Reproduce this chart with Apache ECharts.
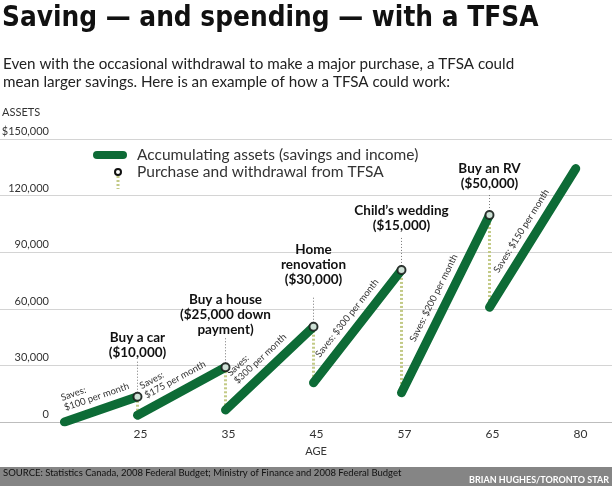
<!DOCTYPE html>
<html><head><meta charset="utf-8">
<script src="https://cdn.jsdelivr.net/npm/echarts@6/dist/echarts.min.js"></script>
<style>html,body{margin:0;padding:0;background:#fff}#c{width:612px;height:486px}</style>
</head><body><div id="c"></div>
<script>
// ---- data ----
const ageTicks = ['25', '35', '45', '57', '65', '80'];
const tickPos = [1, 2, 3, 4, 5, 6];           // axis positions of the age ticks
const yTicks = [0, 30000, 60000, 90000, 120000, 150000];
const yTickLabels = ['0', '30,000', '60,000', '90,000', '120,000', '$150,000'];
// saving segments: start / end (x = axis position, y = assets $)
const segStartX = [0.17, 1, 2, 3, 4, 5];
const segStartY = [0, 3600, 6400, 20800, 15500, 60800];
const segEndX = [1, 2, 3, 4, 5, 5.98];
const segEndY = [13400, 29000, 50500, 80600, 109700, 134300];
const savesText = ['Saves:\n$100 per month', 'Saves:\n$175 per month', 'Saves:\n$300 per month',
  'Saves: $300 per month', 'Saves: $200 per month', 'Saves: $150 per month'];
const eventLabels = ['Buy a car\n($10,000)', 'Buy a house\n($25,000 down\npayment)',
  'Home\nrenovation\n($30,000)', 'Child\u2019s wedding\n($15,000)', 'Buy an RV\n($50,000)'];
const legendNames = ['Accumulating assets (savings and income)', 'Purchase and withdrawal from TFSA'];

// ---- style ----
const GREEN = '#0d6b36';
const FONT = 'Lato, "Open Sans", sans-serif';
const SAVES_FONT_SIZE = 9.5;
const leaderLen = [35, 30, 29, 33, 22];
const labelGap = [37, 30, 40, 37, 24];

const cv = document.createElement('canvas').getContext('2d');
function tw(s, font) { cv.font = font; return cv.measureText(s).width; }

const chart = echarts.init(document.getElementById('c'), null, {renderer: 'canvas'});

const series = [];
// withdrawal dotted lines
series.push({
  type: 'lines', coordinateSystem: 'cartesian2d', z: 1, silent: true,
  lineStyle: {color: '#c3ca86', width: 3, type: [2, 2], opacity: 1, curveness: 0},
  data: eventLabels.map((_, i) => ({coords: [[segEndX[i], segEndY[i]], [segStartX[i + 1], segStartY[i + 1]]]}))
});
// saving segments
for (let i = 0; i < segStartX.length; i++) {
  const parts = savesText[i].split('\n');
  let fmt, rich;
  if (parts.length > 1) {
    const w = tw(parts[1], SAVES_FONT_SIZE + 'px ' + FONT);
    fmt = '{a|' + parts[0] + '}\n{b|' + parts[1] + '}';
    rich = {a: {width: w, align: 'left', fontSize: SAVES_FONT_SIZE, fontFamily: FONT, color: '#333', lineHeight: 10.5},
            b: {fontSize: SAVES_FONT_SIZE, fontFamily: FONT, color: '#333', lineHeight: 10.5}};
  } else { fmt = parts[0]; rich = {}; }
  series.push({
    type: 'line', z: 2, silent: true, showSymbol: false, animation: false,
    data: [[segStartX[i], segStartY[i]], [segEndX[i], segEndY[i]]],
    lineStyle: {color: GREEN, width: 9, cap: 'round'},
    markLine: {
      silent: true, symbol: 'none', animation: false,
      lineStyle: {color: 'rgba(0,0,0,0)', width: 0, opacity: 1},
      label: {show: true, position: 'insideMiddleTop', formatter: fmt, rich: rich, opacity: 1,
        fontSize: SAVES_FONT_SIZE, fontFamily: FONT, color: '#333', distance: 8, lineHeight: 10.5},
      data: [[{coord: [segStartX[i], segStartY[i]]}, {coord: [segEndX[i], segEndY[i]]}]]
    }
  });
}
// leader lines + event labels
series.push({
  type: 'custom', coordinateSystem: 'cartesian2d', z: 3, silent: true, clip: false,
  data: eventLabels.map((_, i) => [segEndX[i], segEndY[i], i]),
  renderItem: function (params, api) {
    const i = api.value(2);
    const p = api.coord([api.value(0), api.value(1)]);
    return {type: 'group', children: [
      {type: 'line', shape: {x1: p[0], y1: p[1] - 4, x2: p[0], y2: p[1] - leaderLen[i]},
        style: {stroke: '#777', lineWidth: 1, lineDash: [1, 2]}},
      {type: 'text', x: p[0], y: p[1] - labelGap[i],
        style: {text: eventLabels[i], fill: '#111', font: 'bold 13.5px ' + FONT,
          align: 'center', verticalAlign: 'bottom', lineHeight: 15}}
    ]};
  }
});
// purchase circles
series.push({
  type: 'scatter', z: 4, silent: true, symbol: 'circle', symbolSize: 8,
  itemStyle: {color: '#fff', borderColor: '#111', borderWidth: 2},
  data: eventLabels.map((_, i) => [segEndX[i], segEndY[i]])
});

chart.setOption({
  animation: false,
  grid: {left: 0, right: 0, top: 139, bottom: 64, containLabel: false, outerBoundsMode: 'none'},
  xAxis: {
    type: 'value', min: -0.5625, max: 6.392,
    axisLine: {show: true, lineStyle: {color: '#bdbdbd'}},
    axisTick: {show: false}, splitLine: {show: false},
    axisLabel: {customValues: tickPos, formatter: v => ageTicks[tickPos.indexOf(v)],
      color: '#333', fontSize: 12, fontFamily: FONT, margin: 6, padding: [0, 0, 0, 6]},
    name: 'AGE', nameLocation: 'middle', nameGap: 24,
    nameTextStyle: {color: '#333', fontSize: 11, fontFamily: FONT, padding: [0, 0, 0, 20]}
  },
  yAxis: {
    type: 'value', min: 0, max: 150000, interval: 30000,
    axisLine: {show: false}, axisTick: {show: false},
    splitLine: {lineStyle: {color: '#d4d4d4', width: 1}},
    axisLabel: {inside: true, align: 'right', verticalAlign: 'bottom', margin: 49, padding: [0, 0, 2, 0],
      formatter: v => yTickLabels[yTicks.indexOf(v)], color: '#333', fontSize: 11, fontFamily: FONT}
  },
  graphic: [
    {type: 'text', left: 2, top: 5, style: {text: 'Saving \u2014 and spending \u2014 with a TFSA', fill: '#111',
      font: 'bold 27.7px "DejaVu Sans Condensed", Lato, sans-serif'}},
    {type: 'text', left: 3, top: 55, style: {text: 'Even with the occasional withdrawal to make a major purchase, a TFSA could\nmean larger savings. Here is an example of how a TFSA could work:',
      fill: '#222', font: '15.2px ' + FONT, lineHeight: 18}},
    {type: 'text', left: 2, top: 107, style: {text: 'ASSETS', fill: '#333', font: '11px ' + FONT}},
    // legend
    {type: 'line', shape: {x1: 97, y1: 155, x2: 123, y2: 155}, style: {stroke: GREEN, lineWidth: 8, lineCap: 'round'}},
    {type: 'text', x: 137, y: 155, style: {text: legendNames[0], fill: '#333', font: '15.5px ' + FONT, verticalAlign: 'middle'}},
    {type: 'line', shape: {x1: 118, y1: 176, x2: 118, y2: 189}, style: {stroke: '#c3ca86', lineWidth: 3, lineDash: [2, 2]}},
    {type: 'circle', shape: {cx: 118, cy: 172, r: 3}, style: {fill: '#fff', stroke: '#111', lineWidth: 2}},
    {type: 'text', x: 137, y: 172, style: {text: legendNames[1], fill: '#333', font: '15.5px ' + FONT, verticalAlign: 'middle'}},
    // footer
    {type: 'rect', shape: {x: 0, y: 467, width: 612, height: 19}, style: {fill: '#858585'}},
    {type: 'text', x: 3, y: 473, style: {text: 'SOURCE: Statistics Canada, 2008 Federal Budget; Ministry of Finance and 2008 Federal Budget',
      fill: '#111', font: '9.5px ' + FONT, verticalAlign: 'middle'}},
    {type: 'text', x: 609, y: 480, style: {text: 'BRIAN HUGHES/TORONTO STAR', fill: '#fff',
      font: 'bold 9px ' + FONT, align: 'right', verticalAlign: 'middle'}}
  ],
  series: series
});
</script></body></html>
